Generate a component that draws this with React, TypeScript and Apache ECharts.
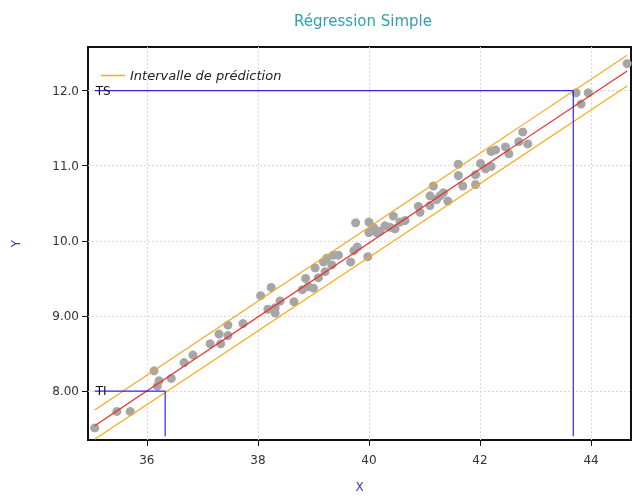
import React, { useEffect, useRef } from "react";
import * as echarts from "echarts";

const pointsX = [35.06, 35.46, 35.7, 36.13, 36.22, 36.19, 36.44, 36.67, 36.83,
  37.14, 37.3, 37.33, 37.46, 37.46, 37.73, 38.05, 38.24, 38.18, 38.31, 38.31, 38.4, 38.65, 38.8, 38.86, 38.91,
  39.03, 39.09, 39.0, 39.18, 39.24, 39.36, 39.45, 39.33, 39.21, 39.67, 39.73, 39.76, 39.79, 40.0, 39.98, 40.0,
  40.08, 40.14, 40.2, 40.29, 40.38, 40.44, 40.47, 40.65, 40.56, 40.89, 40.92,
  41.1, 41.1, 41.16, 41.22, 41.28, 41.34, 41.42, 41.61, 41.61, 41.69, 41.92, 41.92, 42.01, 42.1, 42.2, 42.2,
  42.28, 42.46, 42.52, 42.7, 42.77, 42.86,
  43.73, 43.95, 43.82, 44.65];
const pointsY = [7.51, 7.73, 7.73, 8.27, 8.14, 8.07, 8.17, 8.38, 8.48,
  8.63, 8.76, 8.63, 8.88, 8.74, 8.9, 9.27, 9.38, 9.09, 9.11, 9.04, 9.2, 9.19, 9.35, 9.5, 9.39,
  9.64, 9.51, 9.37, 9.72, 9.77, 9.81, 9.81, 9.68, 9.59, 9.72, 9.87, 10.24, 9.92, 10.25, 9.79, 10.11,
  10.18, 10.11, 10.13, 10.2, 10.18, 10.33, 10.16, 10.27, 10.25, 10.46, 10.38,
  10.47, 10.6, 10.73, 10.55, 10.6, 10.64, 10.53, 11.02, 10.87, 10.73, 10.88, 10.75, 11.03, 10.96, 10.99, 11.19,
  11.21, 11.25, 11.16, 11.32, 11.45, 11.29,
  11.97, 11.97, 11.82, 12.36];

const fitX = [35.06, 44.65];
const fitY = [7.54, 12.26];
const upperY = [7.75, 12.47];
const lowerY = [7.36, 12.06];

const tsX = [35.06, 43.68, 43.68];
const tsY = [12.0, 12.0, 7.4];
const tiX = [35.06, 36.33, 36.33];
const tiY = [8.0, 8.0, 7.4];

const xTicks = [36, 38, 40, 42, 44];
const yTicks = [8, 9, 10, 11, 12];

const zip = (a: number[], b: number[]) => a.map((v, i) => [v, b[i]]);

export default function App() {
  const ref = useRef<HTMLDivElement>(null);
  useEffect(() => {
    const chart = echarts.init(ref.current!, null, { renderer: "svg" });
    const font = "DejaVu Sans";
    const orange = "#f8a91c";
    const blue = "#2a2ae6";
    const bandLine = (name: string, ys: number[]) => ({
      name,
      type: "line",
      data: zip(fitX, ys),
      showSymbol: false,
      lineStyle: { color: orange, width: 1.2 },
      itemStyle: { color: orange },
      z: 3,
    });
    const labeled = (xs: number[], ys: number[], text: string) => ({
      type: "line",
      data: xs.map((x, i) =>
        i === 0
          ? {
              value: [x, ys[i]],
              label: {
                show: true,
                formatter: text,
                position: "right",
                distance: 1,
                color: "#111",
                fontFamily: font,
                fontSize: 12,
              },
            }
          : [x, ys[i]]
      ),
      symbol: "circle",
      symbolSize: 0,
      showSymbol: true,
      lineStyle: { color: blue, width: 1.2 },
      itemStyle: { color: blue },
      z: 4,
    });
    chart.setOption({
      animation: false,
      title: {
        text: "Régression Simple",
        left: 358,
        textAlign: "center",
        top: 8,
        textStyle: { color: "#2aa3ab", fontFamily: font, fontSize: 15, fontWeight: "normal" },
      },
      legend: {
        data: ["Intervalle de prédiction"],
        left: 96,
        top: 64,
        icon: "rect",
        itemWidth: 24,
        itemHeight: 1.5,
        itemGap: 6,
        textStyle: { fontFamily: font, fontSize: 13, fontStyle: "italic", color: "#222" },
      },
      grid: {
        left: 88,
        right: 1,
        top: 47,
        bottom: 50,
        show: true,
        borderColor: "#111",
        borderWidth: 2,
        containLabel: false,
      },
      xAxis: {
        type: "value",
        min: 34.94,
        max: 44.72,
        name: "X",
        nameLocation: "middle",
        nameGap: 41,
        nameTextStyle: { color: "#3c3cb4", fontFamily: font, fontSize: 12 },
        axisLine: { show: false },
        axisTick: { show: true, customValues: xTicks, length: 6, lineStyle: { color: "#111" } },
        axisLabel: {
          customValues: xTicks,
          color: "#333",
          fontFamily: font,
          fontSize: 12,
          margin: 14,
          formatter: (v: number) => String(v),
        },
        splitLine: { show: true, lineStyle: { color: "#d8d8d8", type: [2, 2] } },
      },
      yAxis: {
        type: "value",
        min: 7.35,
        max: 12.58,
        name: "Y",
        nameLocation: "middle",
        nameGap: 66,
        nameRotate: 90,
        nameTextStyle: { color: "#3c3cb4", fontFamily: font, fontSize: 12 },
        axisLine: { show: false },
        axisTick: { show: true, customValues: yTicks, length: 6, lineStyle: { color: "#111" } },
        axisLabel: {
          customValues: yTicks,
          color: "#333",
          fontFamily: font,
          fontSize: 12,
          margin: 9,
          formatter: (v: number) => Number(v).toPrecision(3),
        },
        splitLine: { show: true, lineStyle: { color: "#d8d8d8", type: [2, 2] } },
      },
      series: [
        {
          type: "scatter",
          data: zip(pointsX, pointsY),
          symbolSize: 9,
          itemStyle: { color: "#a6a6a6", opacity: 1 },
          z: 2,
        },
        {
          type: "line",
          data: zip(fitX, fitY),
          showSymbol: false,
          lineStyle: { color: "#ee2a2a", width: 1.2 },
          z: 3,
        },
        bandLine("Intervalle de prédiction", upperY),
        bandLine("Intervalle de prédiction", lowerY),
        labeled(tsX, tsY, "TS"),
        labeled(tiX, tiY, "TI"),
      ],
    });
    return () => chart.dispose();
  }, []);
  return <div ref={ref} style={{ position: "fixed", left: 0, top: 0, width: 632, height: 498 }} />;
}
